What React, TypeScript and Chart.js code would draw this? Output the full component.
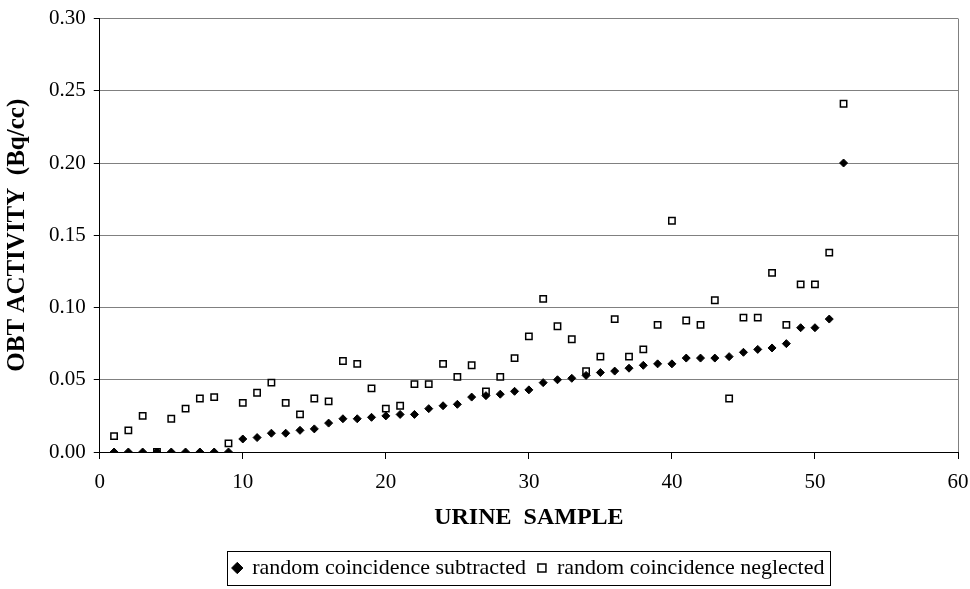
import React, { useEffect, useRef } from "react";
import { Chart, registerables } from "chart.js";

Chart.register(...registerables);

const samples = Array.from({ length: 52 }, (_, i) => i + 1);
const subtracted = [
  0, 0, 0, 0, 0, 0, 0, 0, 0, 0.009,
  0.010, 0.013, 0.013, 0.015, 0.016, 0.020, 0.023, 0.023, 0.024, 0.025,
  0.026, 0.026, 0.030, 0.032, 0.033, 0.038, 0.039, 0.040, 0.042, 0.043,
  0.048, 0.050, 0.051, 0.053, 0.055, 0.056, 0.058, 0.060, 0.061, 0.061,
  0.065, 0.065, 0.065, 0.066, 0.069, 0.071, 0.072, 0.075, 0.086, 0.086,
  0.092, 0.200,
];
const neglected = [
  0.011, 0.015, 0.025, 0.000, 0.023, 0.030, 0.037, 0.038, 0.006, 0.034,
  0.041, 0.048, 0.034, 0.026, 0.037, 0.035, 0.063, 0.061, 0.044, 0.030,
  0.032, 0.047, 0.047, 0.061, 0.052, 0.060, 0.042, 0.052, 0.065, 0.080,
  0.106, 0.087, 0.078, 0.056, 0.066, 0.092, 0.066, 0.071, 0.088, 0.160,
  0.091, 0.088, 0.105, 0.037, 0.093, 0.093, 0.124, 0.088, 0.116, 0.116,
  0.138, 0.241,
];
const seriesNames = ["random coincidence subtracted", "random coincidence neglected"];
const xTitle = "URINE  SAMPLE";
const yTitle = "OBT ACTIVITY  (Bq/cc)";

const FONT = "'Liberation Serif', 'Times New Roman', serif";

const frame = {
  id: "frame",
  afterDraw(chart: any) {
    const { ctx, chartArea } = chart;
    ctx.save();
    ctx.strokeStyle = "#808080";
    ctx.lineWidth = 1;
    ctx.beginPath();
    ctx.moveTo(chartArea.right + 0.5, chartArea.top);
    ctx.lineTo(chartArea.right + 0.5, chartArea.bottom);
    ctx.stroke();
    const lg = chart.legend;
    if (lg && lg.legendHitBoxes && lg.legendHitBoxes.length) {
      let l = Infinity, r = -Infinity, t = Infinity, b = -Infinity;
      lg.legendHitBoxes.forEach((h: any) => {
        l = Math.min(l, h.left);
        r = Math.max(r, h.left + h.width);
        t = Math.min(t, h.top);
        b = Math.max(b, h.top + h.height);
      });
      ctx.strokeStyle = "#000";
      ctx.strokeRect(Math.round(l - 6) + 0.5, Math.round(t - 6) + 0.5, Math.round(r - l + 12), Math.round(b - t + 12));
    }
    ctx.restore();
  },
};

export default function App() {
  const ref = useRef<HTMLCanvasElement | null>(null);
  useEffect(() => {
    if (!ref.current) return;
    const chart = new Chart(ref.current, {
      type: "scatter",
      data: {
        datasets: [
          {
            label: seriesNames[0],
            data: samples.map((x, i) => ({ x, y: subtracted[i] })),
            pointStyle: "rectRot",
            pointRadius: 4,
            backgroundColor: "#000",
            borderColor: "#000",
            borderWidth: 1,
          },
          {
            label: seriesNames[1],
            data: samples.map((x, i) => ({ x, y: neglected[i] })),
            pointStyle: "rect",
            pointRadius: 4.5,
            backgroundColor: "#fff",
            borderColor: "#000",
            borderWidth: 1.5,
          },
        ],
      },
      options: {
        animation: false,
        responsive: false,
        layout: { padding: { top: 2, right: 12, left: 3, bottom: 0 } },
        plugins: {
          tooltip: { enabled: false },
          legend: {
            position: "bottom",
            fullSize: false,
            labels: {
              usePointStyle: true,
              boxWidth: 8,
              boxHeight: 8,
              padding: 12,
              color: "#000",
              font: { family: FONT, size: 22 },
            },
          },
        },
        scales: {
          x: {
            type: "linear",
            min: 0,
            max: 60,
            ticks: { stepSize: 10, color: "#000", font: { family: FONT, size: 21 }, padding: 0 },
            grid: { drawOnChartArea: false, drawTicks: true, tickLength: 18, tickColor: "#000", tickBorderDash: [6, 100] },
            border: { color: "#000", width: 1 },
            title: { display: true, text: xTitle, color: "#000", font: { family: FONT, size: 24, weight: "bold" }, padding: { top: 8, bottom: 13 } },
          },
          y: {
            min: 0,
            max: 0.3,
            ticks: {
              stepSize: 0.05,
              color: "#000",
              font: { family: FONT, size: 21, lineHeight: 1 },
              padding: 8,
              callback: (v: any) => Number(v).toFixed(2),
            },
            grid: { color: "#808080", tickLength: 6, tickColor: "#000" },
            border: { color: "#000", width: 1 },
            title: { display: true, text: yTitle, color: "#000", font: { family: FONT, size: 25, weight: "bold" }, padding: { top: 0, bottom: 8 } },
          },
        },
      },
      plugins: [frame],
    });
    return () => chart.destroy();
  }, []);
  return (
    <div style={{ position: "fixed", left: 0, top: 0, width: 970, height: 589, background: "#fff" }}>
      <canvas ref={ref} width={970} height={589} />
    </div>
  );
}
